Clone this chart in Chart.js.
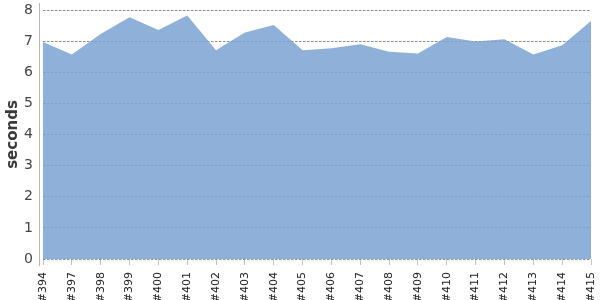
<!DOCTYPE html>
<html>
<head>
<meta charset="utf-8">
<script src="https://cdn.jsdelivr.net/npm/chart.js@4"></script>
<style>
  html, body { margin: 0; padding: 0; background: #fff; }
  #wrap { width: 600px; height: 300px; }
</style>
</head>
<body>
<div id="wrap"><canvas id="buildChart" width="600" height="300"></canvas></div>
<script>
// build numbers and their durations (seconds)
const builds = ['#394', '#397', '#398', '#399', '#400', '#401', '#402', '#403', '#404', '#405',
                '#406', '#407', '#408', '#409', '#410', '#411', '#412', '#413', '#414', '#415'];
const durations = [6.97, 6.57, 7.23, 7.77, 7.36, 7.82, 6.71, 7.28, 7.52, 6.71,
                   6.77, 6.90, 6.66, 6.60, 7.13, 6.99, 7.06, 6.57, 6.87, 7.65];
const yMin = 0, yMax = 8, yStep = 1;

// vertical axis line sits a few px left of the plot area
const axisLine = {
    id: 'axisLine',
    afterDraw(chart) {
        const ctx = chart.ctx, a = chart.chartArea;
        ctx.save();
        ctx.strokeStyle = '#b8b8b8';
        ctx.lineWidth = 1;
        ctx.beginPath();
        ctx.moveTo(39.5, a.top - 7);
        ctx.lineTo(39.5, a.bottom + 7);
        ctx.stroke();
        ctx.restore();
    }
};

// drop the label overhang padding so the plot area is set by layout.padding only
function noOverhang(scale) {
    scale.paddingTop = 0; scale.paddingBottom = 0;
    scale.paddingLeft = 0; scale.paddingRight = 0;
}

new Chart(document.getElementById('buildChart').getContext('2d'), {
    type: 'line',
    data: {
        labels: builds,
        datasets: [{
            label: 'seconds',
            data: durations,
            fill: 'origin',
            backgroundColor: 'rgba(122,162,210,0.85)',
            borderWidth: 0,
            pointRadius: 0,
            tension: 0
        }]
    },
    options: {
        responsive: false,
        animation: false,
        layout: { padding: { top: 10, right: 9, left: 0, bottom: 0 } },
        plugins: { legend: { display: false }, tooltip: { enabled: false } },
        scales: {
            x: {
                offset: false,
                border: { display: false },
                grid: { drawOnChartArea: false, drawTicks: true, tickLength: 6, color: '#c4c4c4' },
                ticks: {
                    autoSkip: false, minRotation: 90, maxRotation: 90, padding: 7,
                    color: '#222', font: { family: 'DejaVu Sans', size: 11 }
                },
                afterFit(scale) { scale.height = 41; noOverhang(scale); }
            },
            y: {
                min: yMin, max: yMax,
                border: { display: false, dash: [2.5, 1.5] },
                grid: { color: '#8c8c8c', drawTicks: false, lineWidth: 1 },
                ticks: { stepSize: yStep, padding: 10, color: '#444',
                         font: { family: 'DejaVu Sans', size: 14 } },
                title: { display: true, text: 'seconds', color: '#3a3a3a', padding: { top: 4, bottom: 0 },
                         font: { family: 'DejaVu Sans', size: 15, weight: '600' } },
                afterFit(scale) { scale.width = 43; noOverhang(scale); }
            }
        }
    },
    plugins: [axisLine]
});
</script>
</body>
</html>
